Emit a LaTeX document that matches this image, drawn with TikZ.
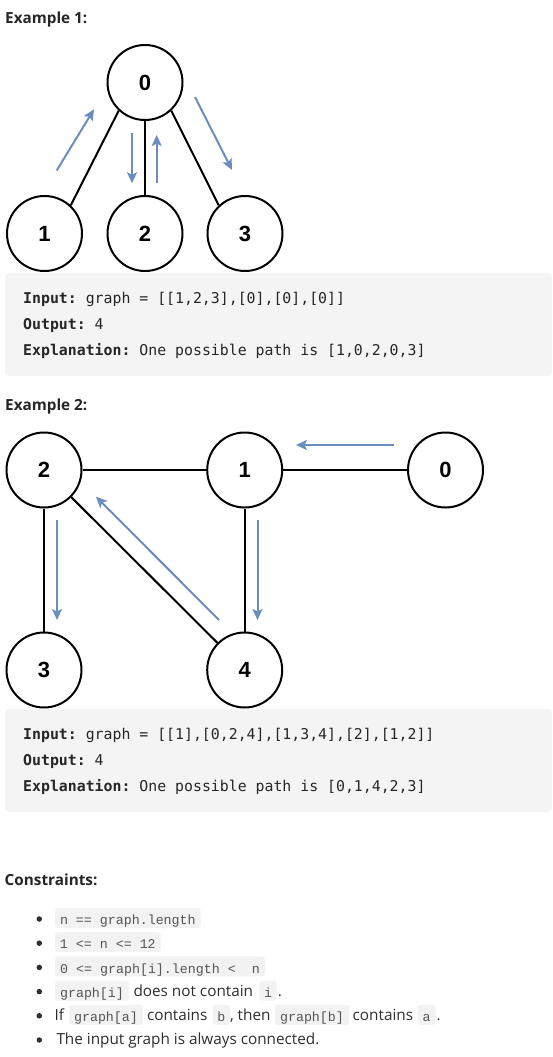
\documentclass[tikz,border=0pt]{standalone}
\usepackage{fontspec}
\setmainfont{Open Sans}
\newfontfamily\exmono{DejaVu Sans Mono}
\newfontfamily\pillmono{Liberation Mono}
\newfontfamily\nodefont{Liberation Sans}
\usetikzlibrary{arrows.meta}
\definecolor{headc}{HTML}{262626}
\definecolor{bodyc}{HTML}{2E2E2E}
\definecolor{boxc}{HTML}{F4F4F4}
\definecolor{pillc}{HTML}{F2F2F2}
\definecolor{pilltext}{HTML}{555555}
\definecolor{arrowc}{HTML}{6C8EBF}
\begin{document}
\begin{tikzpicture}[x=1pt,y=-1pt,
  vertex/.style={circle,draw=black,line width=2pt,minimum size=75pt,inner sep=0pt,fill=white,
    font=\nodefont\bfseries\fontsize{22}{22}\selectfont},
  edge/.style={line width=2pt,draw=black},
  walk/.style={draw=arrowc,line width=2pt,-{Stealth[length=11pt,width=10pt,inset=2.5pt]}},
  heading/.style={anchor=base west,inner sep=0pt,text=headc,font=\bfseries\fontsize{15.3}{18}\selectfont},
  extext/.style={anchor=base west,inner sep=0pt,text=headc,font=\exmono\fontsize{14.85}{17}\selectfont},
  exbox/.style={fill=boxc,rounded corners=4pt},
  bodytext/.style={anchor=base west,inner sep=0pt,text=bodyc,font=\fontsize{15.3}{18}\selectfont},
  pill/.style={fill=pillc,rounded corners=3pt,inner sep=0pt,minimum height=20pt,text height=13.2pt,text depth=0pt,
    text=pilltext,font=\pillmono\fontsize{13.3}{16}\selectfont},
  bulletdot/.style={circle,fill=bodyc,inner sep=0pt,minimum size=5.5pt},
]
\useasboundingbox (0,0) rectangle (552,1057);
\fill[white] (0,0) rectangle (552,1057);

% ---------- Example 1 ----------
\node[heading] (h1) at (5,23.3) {Example 1:};

\node[vertex] (a0) at (145,82.5) {0};
\node[vertex] (a1) at (44.5,233.5) {1};
\node[vertex] (a2) at (145,233.5) {2};
\node[vertex] (a3) at (245,233.5) {3};
\draw[edge] (a0.-133) -- (a1.47);
\draw[edge] (a0) -- (a2);
\draw[edge] (a0.-47) -- (a3.133);

\coordinate (w1s) at (56.7,170.5);
\coordinate (w1e) at (94,109.3);
\coordinate (w2s) at (132,133.3);
\coordinate (w2e) at (132,183.3);
\coordinate (w3s) at (156.7,183.3);
\coordinate (w3e) at (156.7,135);
\coordinate (w4s) at (195,97);
\coordinate (w4e) at (232,170);
\draw[walk] (w1s) -- (w1e);
\draw[walk] (w2s) -- (w2e);
\draw[walk] (w3s) -- (w3e);
\draw[walk] (w4s) -- (w4e);

\fill[exbox] (5,273.3) rectangle (552,376);
\node[extext] (t1a) at (23,303.3) {\bfseries Input:\ \mdseries graph = [[1,2,3],[0],[0],[0]]};
\node[extext] (t1b) at (23,329.3) {\bfseries Output:\ \mdseries 4};
\node[extext] (t1c) at (23,355.7) {\bfseries Explanation:\ \mdseries One possible path is [1,0,2,0,3]};

% ---------- Example 2 ----------
\node[heading] (h2) at (5,410) {Example 2:};

\node[vertex] (b2) at (44,470) {2};
\node[vertex] (b1) at (244.7,470) {1};
\node[vertex] (b0) at (445.5,470) {0};
\node[vertex] (b3) at (44,670) {3};
\node[vertex] (b4) at (244.7,670) {4};
\draw[edge] (b2) -- (b1);
\draw[edge] (b1) -- (b0);
\draw[edge] (b2) -- (b3);
\draw[edge] (b2) -- (b4);
\draw[edge] (b1) -- (b4);

\coordinate (v1s) at (394,445);
\coordinate (v1e) at (296,445);
\coordinate (v2s) at (257.5,520);
\coordinate (v2e) at (257.5,620);
\coordinate (v3s) at (219,620);
\coordinate (v3e) at (96,496.7);
\coordinate (v4s) at (57,520);
\coordinate (v4e) at (57,620);
\draw[walk] (v1s) -- (v1e);
\draw[walk] (v2s) -- (v2e);
\draw[walk] (v3s) -- (v3e);
\draw[walk] (v4s) -- (v4e);

\fill[exbox] (5,709.3) rectangle (552,812);
\node[extext] (t2a) at (23,739.3) {\bfseries Input:\ \mdseries graph = [[1],[0,2,4],[1,3,4],[2],[1,2]]};
\node[extext] (t2b) at (23,765.3) {\bfseries Output:\ \mdseries 4};
\node[extext] (t2c) at (23,791.7) {\bfseries Explanation:\ \mdseries One possible path is [0,1,4,2,3]};

% ---------- Constraints ----------
\node[heading] (h3) at (4.5,885) {Constraints:};

\node[bulletdot] (d1) at (39.3,919) {};
\node[bulletdot] (d2) at (39.3,943.2) {};
\node[bulletdot] (d3) at (39.3,967.4) {};
\node[bulletdot] (d4) at (39.3,991.6) {};
\node[bulletdot] (d5) at (39.3,1015.8) {};
\node[bulletdot] (d6) at (39.3,1040) {};

\node[pill,minimum width=145.7pt] (p1) at (127.85,918) {n == graph.length};
\node[pill,minimum width=105.7pt] (p2) at (107.85,942.2) {1 <= n <= 12};
\node[pill,minimum width=210pt] (p3) at (160,966.4) {0 <= graph[i].length <~~n};

\node[pill,minimum width=74pt] (p4a) at (92,990.6) {graph[i]};
\node[bodytext] (s4a) at (133.3,996.1) {does not contain};
\node[pill,minimum width=17.4pt] (p4b) at (268,990.6) {i};
\node[bodytext] (s4b) at (277.7,996.1) {.};

\node[bodytext] (s5a) at (54.5,1020.3) {If};
\node[pill,minimum width=73.4pt] (p5a) at (106,1014.8) {graph[a]};
\node[bodytext] (s5b) at (146.8,1020.3) {contains};
\node[pill,minimum width=17.3pt] (p5b) at (221.35,1014.8) {b};
\node[bodytext] (s5c) at (229.8,1020.3) {, then};
\node[pill,minimum width=74pt] (p5c) at (312,1014.8) {graph[b]};
\node[bodytext] (s5d) at (352.5,1020.3) {contains};
\node[pill,minimum width=18pt] (p5d) at (426.7,1014.8) {a};
\node[bodytext] (s5e) at (436.3,1020.3) {.};

\node[bodytext] (s6) at (56.3,1044) {The input graph is always connected.};
\end{tikzpicture}
\end{document}
